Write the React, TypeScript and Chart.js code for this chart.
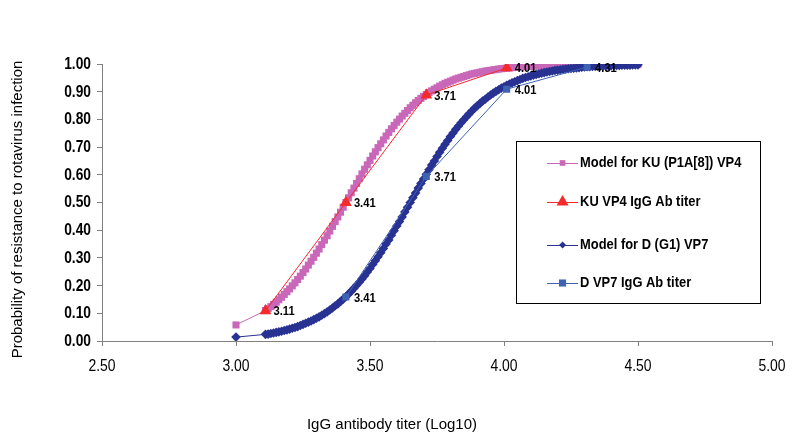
import React, { useEffect, useRef } from "react";
import { Chart, registerables } from "chart.js";

Chart.register(...registerables);

// ---- data ----
const modelX = [
  3.0,
  3.11, 3.12, 3.13, 3.14, 3.15, 3.16, 3.17, 3.18, 3.19, 3.2,
  3.21, 3.22, 3.23, 3.24, 3.25, 3.26, 3.27, 3.28, 3.29, 3.3,
  3.31, 3.32, 3.33, 3.34, 3.35, 3.36, 3.37, 3.38, 3.39, 3.4,
  3.41, 3.42, 3.43, 3.44, 3.45, 3.46, 3.47, 3.48, 3.49, 3.5,
  3.51, 3.52, 3.53, 3.54, 3.55, 3.56, 3.57, 3.58, 3.59, 3.6,
  3.61, 3.62, 3.63, 3.64, 3.65, 3.66, 3.67, 3.68, 3.69, 3.7,
  3.71, 3.72, 3.73, 3.74, 3.75, 3.76, 3.77, 3.78, 3.79, 3.8,
  3.81, 3.82, 3.83, 3.84, 3.85, 3.86, 3.87, 3.88, 3.89, 3.9,
  3.91, 3.92, 3.93, 3.94, 3.95, 3.96, 3.97, 3.98, 3.99, 4.0,
  4.01, 4.02, 4.03, 4.04, 4.05, 4.06, 4.07, 4.08, 4.09, 4.1,
  4.11, 4.12, 4.13, 4.14, 4.15, 4.16, 4.17, 4.18, 4.19, 4.2,
  4.21, 4.22, 4.23, 4.24, 4.25, 4.26, 4.27, 4.28, 4.29, 4.3,
  4.31, 4.32, 4.33, 4.34, 4.35, 4.36, 4.37, 4.38, 4.39, 4.4,
  4.41, 4.42, 4.43, 4.44, 4.45, 4.46, 4.47, 4.48, 4.49, 4.5,
];
const modelKU = [
  0.058,
  0.110, 0.117, 0.124, 0.132, 0.140, 0.149, 0.158, 0.168, 0.178, 0.188,
  0.199, 0.210, 0.222, 0.234, 0.247, 0.260, 0.274, 0.288, 0.302, 0.317,
  0.332, 0.348, 0.364, 0.380, 0.397, 0.414, 0.431, 0.448, 0.465, 0.483,
  0.500, 0.517, 0.535, 0.552, 0.569, 0.586, 0.603, 0.620, 0.636, 0.652,
  0.668, 0.683, 0.698, 0.712, 0.726, 0.740, 0.753, 0.766, 0.778, 0.790,
  0.801, 0.812, 0.822, 0.832, 0.842, 0.851, 0.860, 0.868, 0.876, 0.883,
  0.890, 0.897, 0.903, 0.909, 0.914, 0.920, 0.925, 0.930, 0.934, 0.938,
  0.942, 0.946, 0.949, 0.952, 0.955, 0.958, 0.961, 0.964, 0.966, 0.968,
  0.970, 0.972, 0.974, 0.976, 0.977, 0.979, 0.980, 0.982, 0.983, 0.984,
  0.985, 0.986, 0.987, 0.988, 0.989, 0.989, 0.990, 0.991, 0.991, 0.992,
  0.992, 0.993, 0.993, 0.994, 0.994, 0.995, 0.995, 0.995, 0.996, 0.996,
  0.996, 0.996, 0.997, 0.997, 0.997, 0.997, 0.997, 0.998, 0.998, 0.998,
  0.998, 0.998, 0.998, 0.998, 0.998, 0.998, 0.999, 0.999, 0.999, 0.999,
  0.999, 0.999, 0.999, 0.999, 0.999, 0.999, 0.999, 0.999, 0.999, 0.999,
];
const modelD = [
  0.014,
  0.024, 0.025, 0.027, 0.029, 0.031, 0.033, 0.035, 0.038, 0.040, 0.043,
  0.046, 0.049, 0.052, 0.056, 0.060, 0.064, 0.068, 0.072, 0.077, 0.082,
  0.087, 0.093, 0.099, 0.105, 0.112, 0.119, 0.127, 0.134, 0.143, 0.151,
  0.160, 0.170, 0.180, 0.190, 0.201, 0.212, 0.224, 0.236, 0.249, 0.262,
  0.276, 0.290, 0.304, 0.319, 0.334, 0.350, 0.365, 0.382, 0.398, 0.415,
  0.431, 0.448, 0.466, 0.483, 0.500, 0.517, 0.534, 0.552, 0.569, 0.585,
  0.602, 0.618, 0.635, 0.650, 0.666, 0.681, 0.696, 0.710, 0.724, 0.738,
  0.751, 0.764, 0.776, 0.788, 0.799, 0.810, 0.820, 0.830, 0.840, 0.849,
  0.857, 0.866, 0.873, 0.881, 0.888, 0.895, 0.901, 0.907, 0.913, 0.918,
  0.923, 0.928, 0.932, 0.936, 0.940, 0.944, 0.948, 0.951, 0.954, 0.957,
  0.960, 0.962, 0.965, 0.967, 0.969, 0.971, 0.973, 0.975, 0.977, 0.978,
  0.979, 0.981, 0.982, 0.983, 0.984, 0.985, 0.986, 0.987, 0.988, 0.989,
  0.990, 0.990, 0.991, 0.992, 0.992, 0.993, 0.993, 0.994, 0.994, 0.994,
  0.995, 0.995, 0.995, 0.996, 0.996, 0.996, 0.996, 0.997, 0.997, 0.997,
];
const kuTiterX = [3.11, 3.41, 3.71, 4.01];
const kuTiterY = [0.109, 0.5, 0.888, 0.986];
const dTiterX = [3.41, 3.71, 4.01, 4.31];
const dTiterY = [0.159, 0.594, 0.909, 0.989];

const xTicks = [2.5, 3.0, 3.5, 4.0, 4.5, 5.0];
const legendLabels = [
  "Model for KU (P1A[8]) VP4",
  "KU VP4 IgG Ab titer",
  "Model for D (G1) VP7",
  "D VP7 IgG Ab titer",
];
const xTitle = "IgG antibody titer (Log10)";
const yTitle = "Probability of resistance to rotavirus infection";

const PINK = "#C967B8";
const RED = "#F52A2A";
const NAVY = "#283292";
const BLUE = "#3E63B3";

const ARIAL = "'Liberation Sans', Arial, sans-serif";

const zip = (xs: number[], ys: number[]) => xs.map((x, i) => ({ x, y: ys[i] }));

// draw horizontally condensed text (reference uses a narrow face)
function narrowText(
  ctx: CanvasRenderingContext2D,
  text: string,
  x: number,
  y: number,
  font: string,
  squeeze: number,
  align: CanvasTextAlign
) {
  ctx.save();
  ctx.font = font;
  ctx.textAlign = align;
  ctx.textBaseline = "middle";
  ctx.fillStyle = "#000";
  ctx.translate(x, y);
  ctx.scale(squeeze, 1);
  ctx.fillText(text, 0, 0);
  ctx.restore();
}

function drawMarker(ctx: CanvasRenderingContext2D, style: string, x: number, y: number, r: number, color: string) {
  ctx.save();
  ctx.fillStyle = color;
  ctx.beginPath();
  if (style === "rect") {
    const s = Math.SQRT1_2 * r;
    ctx.rect(x - s, y - s, 2 * s, 2 * s);
  } else if (style === "triangle") {
    for (let k = 0; k < 3; k++) {
      const a = (k * 2 * Math.PI) / 3;
      const px = x + Math.sin(a) * r;
      const py = y - Math.cos(a) * r;
      if (k === 0) ctx.moveTo(px, py);
      else ctx.lineTo(px, py);
    }
    ctx.closePath();
  } else {
    ctx.moveTo(x, y - r);
    ctx.lineTo(x + r, y);
    ctx.lineTo(x, y + r);
    ctx.lineTo(x - r, y);
    ctx.closePath();
  }
  ctx.fill();
  ctx.restore();
}

const overlayPlugin = {
  id: "overlay",
  afterDatasetsDraw(chart: any) {
    const ctx = chart.ctx as CanvasRenderingContext2D;
    chart.data.datasets.forEach((ds: any, di: number) => {
      if (!ds.showValueLabels) return;
      const meta = chart.getDatasetMeta(di);
      meta.data.forEach((el: any, i: number) => {
        const v = ds.data[i].x;
        narrowText(ctx, v.toFixed(2), el.x + 8, el.y + 1, `bold 13px ${ARIAL}`, 0.86, "left");
      });
    });
  },
  afterDraw(chart: any) {
    const ctx = chart.ctx as CanvasRenderingContext2D;
    const a = chart.chartArea;
    const xs = chart.scales.x;
    const ys = chart.scales.y;

    // tick labels
    xTicks.forEach((v) => {
      narrowText(ctx, v.toFixed(2), xs.getPixelForValue(v), a.bottom + 25, `17px ${ARIAL}`, 0.82, "center");
    });
    ys.ticks.forEach((t: any) => {
      narrowText(ctx, Number(t.value).toFixed(2), a.left - 11, ys.getPixelForValue(t.value) + 0.5, `bold 16px ${ARIAL}`, 0.86, "right");
    });

    ctx.save();
    // axis titles
    ctx.fillStyle = "#000";
    ctx.font = `15px ${ARIAL}`;
    ctx.textAlign = "center";
    ctx.textBaseline = "middle";
    ctx.fillText(xTitle, 392, a.bottom + 84);
    ctx.translate(18, (a.top + a.bottom) / 2 + 7);
    ctx.rotate(-Math.PI / 2);
    ctx.fillText(yTitle, 0, 0);
    ctx.restore();

    // legend box
    ctx.save();
    const bx = a.left + (a.right - a.left) * 0.618;
    const by = a.top + 77;
    const bw = 244;
    const bh = 162;
    ctx.fillStyle = "#fff";
    ctx.fillRect(bx, by, bw, bh);
    ctx.strokeStyle = "#000";
    ctx.lineWidth = 1;
    ctx.strokeRect(Math.round(bx) + 0.5, Math.round(by) + 0.5, bw, bh);
    const rows = [22, 61, 104, 142];
    chart.data.datasets.forEach((ds: any, i: number) => {
      const ry = by + rows[i];
      const lx = bx + 31;
      ctx.strokeStyle = ds.borderColor;
      ctx.lineWidth = 1;
      ctx.beginPath();
      ctx.moveTo(lx, ry + 0.5);
      ctx.lineTo(lx + 31, ry + 0.5);
      ctx.stroke();
      drawMarker(ctx, ds.pointStyle, lx + 15.5, ry, ds.legendRadius, ds.pointBackgroundColor);
      narrowText(ctx, legendLabels[i], lx + 33, ry, `bold 15px ${ARIAL}`, 0.86, "left");
    });
    ctx.restore();
  },
};

export default function App() {
  const ref = useRef<HTMLCanvasElement | null>(null);
  useEffect(() => {
    if (!ref.current) return;
    const chart = new Chart(ref.current, {
      type: "line",
      data: {
        datasets: [
          {
            label: legendLabels[0],
            data: zip(modelX, modelKU),
            borderColor: PINK,
            backgroundColor: PINK,
            pointBackgroundColor: PINK,
            pointBorderWidth: 0,
            pointStyle: "rect",
            pointRadius: 5,
            borderWidth: 1,
            order: 4,
            legendRadius: 4,
          } as any,
          {
            label: legendLabels[1],
            data: zip(kuTiterX, kuTiterY),
            borderColor: RED,
            backgroundColor: RED,
            pointBackgroundColor: RED,
            pointBorderWidth: 0,
            pointStyle: "triangle",
            pointRadius: 6.8,
            borderWidth: 1,
            order: 2,
            showValueLabels: true,
            legendRadius: 7,
          } as any,
          {
            label: legendLabels[2],
            data: zip(modelX, modelD),
            borderColor: NAVY,
            backgroundColor: NAVY,
            pointBackgroundColor: NAVY,
            pointBorderWidth: 0,
            pointStyle: "rectRot",
            pointRadius: 4.8,
            borderWidth: 1,
            order: 3,
            legendRadius: 3.5,
          } as any,
          {
            label: legendLabels[3],
            data: zip(dTiterX, dTiterY),
            borderColor: BLUE,
            backgroundColor: BLUE,
            pointBackgroundColor: BLUE,
            pointBorderWidth: 0,
            pointStyle: "rect",
            pointRadius: 5,
            borderWidth: 1,
            order: 1,
            showValueLabels: true,
            legendRadius: 5,
          } as any,
        ],
      },
      options: {
        responsive: false,
        animation: false,
        events: [],
        layout: { padding: { left: 0, right: 28, top: 64, bottom: 0 } },
        plugins: { legend: { display: false }, tooltip: { enabled: false } },
        scales: {
          x: {
            type: "linear",
            min: 2.5,
            max: 5.0,
            afterFit: (s: any) => {
              s.height = 101;
            },
            afterBuildTicks: (s: any) => {
              s.ticks = xTicks.map((v) => ({ value: v }));
            },
            grid: { display: true, drawOnChartArea: false, drawTicks: true, tickLength: 5, color: "#808080" },
            border: { display: true, color: "#808080", width: 1 },
            ticks: { display: false },
          },
          y: {
            type: "linear",
            min: 0,
            max: 1,
            afterFit: (s: any) => {
              s.width = 102;
            },
            grid: { display: true, drawOnChartArea: false, drawTicks: true, tickLength: 5, color: "#808080" },
            border: { display: true, color: "#808080", width: 1 },
            ticks: { display: false, stepSize: 0.1 },
          },
        },
      } as any,
      plugins: [overlayPlugin],
    });
    return () => chart.destroy();
  }, []);
  return (
    <div style={{ position: "absolute", left: 0, top: 0, width: 800, height: 442, background: "#fff" }}>
      <canvas ref={ref} width={800} height={442} style={{ width: 800, height: 442 }} />
    </div>
  );
}
